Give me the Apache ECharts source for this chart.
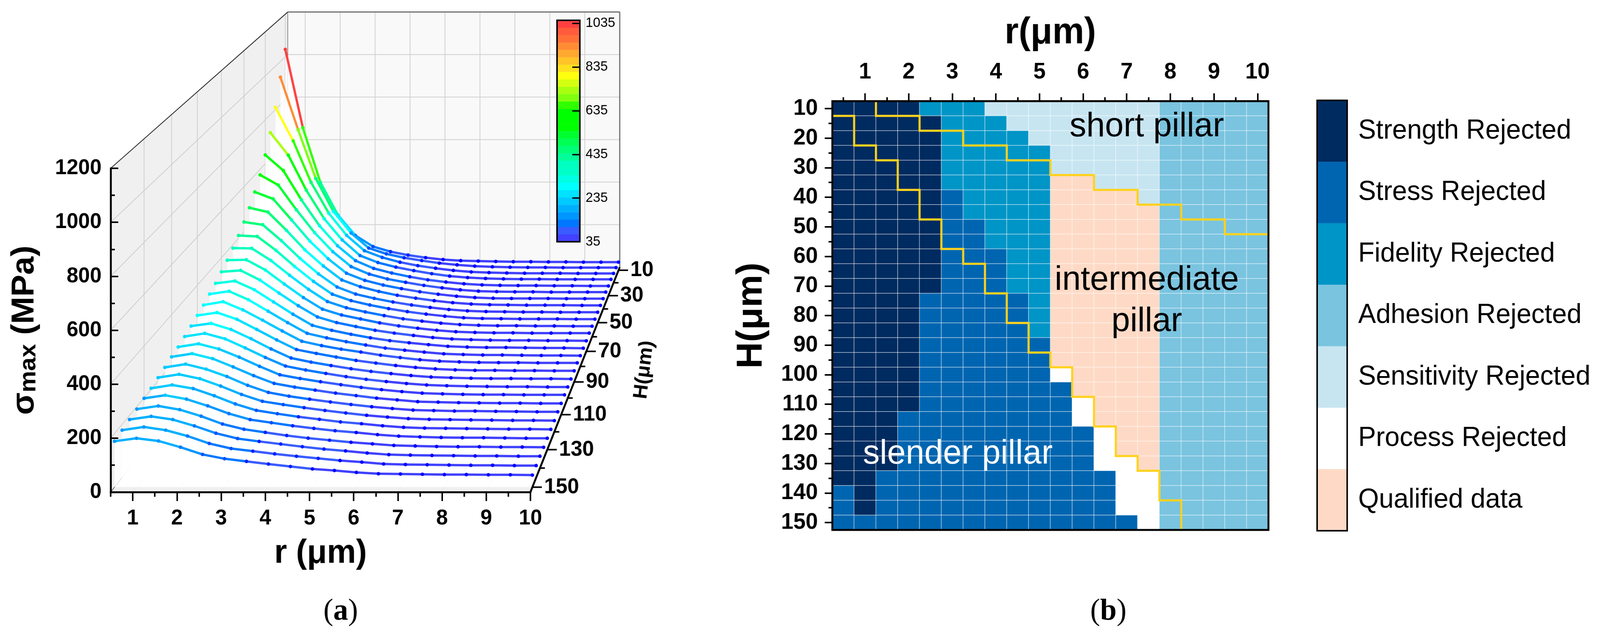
<!DOCTYPE html>
<html><head><meta charset="utf-8">
<style>html,body{margin:0;padding:0;background:#fff;overflow:hidden;width:100%;height:1626px}#c{width:4208px;height:1626px;transform-origin:0 0}</style>
<script src="https://cdn.jsdelivr.net/npm/echarts@6/dist/echarts.min.js"></script>
</head><body><div id="c"></div>
<script>
// ---------- panel (a) data: sigma_max (MPa) per H, at r = 0.5 ... 10
const rValues=[0.5,1,1.5,2,2.5,3,3.5,4,4.5,5,5.5,6,6.5,7,7.5,8,8.5,9,9.5,10];
const hValues=[10,15,20,25,30,35,40,45,50,55,60,65,70,75,80,85,90,95,100,105,110,115,120,125,130,135,140,145,150];
const sigmaH10=[1035,668,412,259,163,111,87,71,59,50,45,43,41,40,40,39,39,38,38,38];
const sigmaH15=[927,683,456,302,202,132,105,87,74,62,54,48,45,43,42,42,41,41,41,41];
const sigmaH20=[810,655,464,321,219,148,117,95,79,67,57,50,47,45,44,44,44,43,43,43];
const sigmaH25=[717,614,454,323,226,154,122,101,85,71,60,53,49,47,46,46,45,45,45,45];
const sigmaH30=[640,569,436,318,227,159,124,103,86,72,62,54,49,47,46,46,45,45,44,44];
const sigmaH35=[575,529,417,314,228,161,127,105,90,76,65,56,50,48,47,47,46,46,46,46];
const sigmaH40=[524,493,399,304,225,160,128,107,91,77,66,57,51,48,47,47,47,46,46,46];
const sigmaH45=[480,461,380,293,221,159,129,108,91,78,67,58,52,49,48,47,47,47,46,46];
const sigmaH50=[444,432,362,284,215,157,126,107,91,78,67,58,52,49,48,47,47,46,46,46];
const sigmaH55=[412,408,347,276,211,155,127,108,92,79,68,59,52,49,48,47,47,47,46,46];
const sigmaH60=[385,384,332,267,206,153,126,108,92,78,68,59,53,50,48,48,47,47,46,46];
const sigmaH65=[361,363,319,258,200,150,125,108,91,78,68,59,53,50,48,48,47,47,47,47];
const sigmaH70=[340,346,305,249,195,147,123,106,90,78,68,59,53,50,48,47,47,46,46,45];
const sigmaH75=[320,330,293,241,189,142,121,104,89,77,68,60,53,50,48,48,47,46,46,45];
const sigmaH80=[304,316,280,232,184,139,120,104,90,77,68,60,53,50,48,48,47,46,46,45];
const sigmaH85=[288,302,268,225,180,137,119,104,92,79,69,60,54,51,49,48,48,47,47,47];
const sigmaH90=[275,287,259,217,174,134,118,103,89,78,68,60,54,50,48,48,47,47,46,46];
const sigmaH95=[262,273,248,210,168,131,114,100,87,76,67,59,53,50,48,47,47,46,46,45];
const sigmaH100=[250,263,241,204,165,130,114,100,87,76,67,59,53,50,48,47,46,46,45,45];
const sigmaH105=[239,252,231,198,161,127,112,99,87,76,67,59,53,50,48,47,47,46,46,46];
const sigmaH110=[231,244,224,191,156,125,110,98,86,76,66,59,52,50,48,47,46,46,45,45];
const sigmaH115=[221,234,214,185,150,122,107,95,84,74,65,58,52,50,48,48,47,46,45,45];
const sigmaH120=[213,226,209,180,147,120,107,95,84,74,65,58,52,49,48,47,46,45,45,44];
const sigmaH125=[204,217,203,175,143,118,105,93,83,73,66,58,52,49,48,47,46,45,45,44];
const sigmaH130=[198,210,195,169,139,116,104,92,82,73,66,58,52,49,47,46,46,45,44,44];
const sigmaH135=[190,202,188,163,133,113,101,89,79,71,63,57,51,49,47,46,46,45,45,44];
const sigmaH140=[184,196,184,160,132,112,101,91,81,72,65,57,51,49,48,47,46,46,45,45];
const sigmaH145=[178,190,178,156,128,109,99,89,80,72,64,58,51,49,48,47,46,46,45,45];
const sigmaH150=[171,182,172,149,122,106,96,86,77,68,62,55,50,49,48,47,47,46,46,45];
const sigmaRows=[sigmaH10,sigmaH15,sigmaH20,sigmaH25,sigmaH30,sigmaH35,sigmaH40,sigmaH45,sigmaH50,sigmaH55,sigmaH60,sigmaH65,sigmaH70,sigmaH75,sigmaH80,sigmaH85,sigmaH90,sigmaH95,sigmaH100,sigmaH105,sigmaH110,sigmaH115,sigmaH120,sigmaH125,sigmaH130,sigmaH135,sigmaH140,sigmaH145,sigmaH150];
const colorTicks=[35,235,435,635,835,1035];
const bandColors=['#4141ff','#3a5cff','#0077ff','#0096ff','#00b0ff','#00caff','#00e2ff','#00ffff','#00ffe2','#00ffc8','#00ffc0','#00ff9a','#00ff78','#00ff55','#00ff30','#00ff00','#00ff00','#00ff00','#30ff00','#80ff10','#a8ff10','#d4ff10','#ffff10','#ffe020','#ffc428','#ffa830','#ff8c35','#ff7038','#ff5c3c','#ff4040'];
const dotLowColors=['#0000ff','#0020ff','#0050ff','#0078ff','#0098ff'];
const zTicksMajor=[10,30,50,70,90,110,130,150];
const zTicksMinor=[20,40,60,80,100,120,140];

// ---------- panel (b) data
const legendNames=['Strength Rejected','Stress Rejected','Fidelity Rejected','Adhesion Rejected','Sensitivity Rejected','Process Rejected','Qualified data'];
const legendColors=['#002b60','#0065b0','#0095c7','#7ac4e0','#c7e5f1','#ffffff','#fedac6'];
const heatRows=[
[0,0,0,0,2,2,2,4,4,4,4,4,4,4,4,3,3,3,3,3],
[0,0,0,0,0,2,2,2,4,4,4,4,4,4,4,3,3,3,3,3],
[0,0,0,0,0,2,2,2,2,4,4,4,4,4,4,3,3,3,3,3],
[0,0,0,0,0,2,2,2,2,2,4,4,4,4,4,3,3,3,3,3],
[0,0,0,0,0,2,2,2,2,2,4,4,4,4,4,3,3,3,3,3],
[0,0,0,0,0,2,2,2,2,2,6,6,4,4,4,3,3,3,3,3],
[0,0,0,0,0,1,2,2,2,2,6,6,6,6,4,3,3,3,3,3],
[0,0,0,0,0,1,2,2,2,2,6,6,6,6,6,3,3,3,3,3],
[0,0,0,0,0,1,1,2,2,2,6,6,6,6,6,3,3,3,3,3],
[0,0,0,0,0,1,1,2,2,2,6,6,6,6,6,3,3,3,3,3],
[0,0,0,0,0,1,1,1,2,2,6,6,6,6,6,3,3,3,3,3],
[0,0,0,0,0,1,1,1,2,2,6,6,6,6,6,3,3,3,3,3],
[0,0,0,0,0,1,1,1,2,2,6,6,6,6,6,3,3,3,3,3],
[0,0,0,0,1,1,1,1,1,2,6,6,6,6,6,3,3,3,3,3],
[0,0,0,0,1,1,1,1,1,2,6,6,6,6,6,3,3,3,3,3],
[0,0,0,0,1,1,1,1,1,2,6,6,6,6,6,3,3,3,3,3],
[0,0,0,0,1,1,1,1,1,1,6,6,6,6,6,3,3,3,3,3],
[0,0,0,0,1,1,1,1,1,1,6,6,6,6,6,3,3,3,3,3],
[0,0,0,0,1,1,1,1,1,1,5,6,6,6,6,3,3,3,3,3],
[0,0,0,0,1,1,1,1,1,1,1,6,6,6,6,3,3,3,3,3],
[0,0,0,0,1,1,1,1,1,1,1,5,6,6,6,3,3,3,3,3],
[0,0,0,1,1,1,1,1,1,1,1,5,6,6,6,3,3,3,3,3],
[0,0,0,1,1,1,1,1,1,1,1,1,5,6,6,3,3,3,3,3],
[0,0,0,1,1,1,1,1,1,1,1,1,5,6,6,3,3,3,3,3],
[0,0,0,1,1,1,1,1,1,1,1,1,5,5,6,3,3,3,3,3],
[0,0,1,1,1,1,1,1,1,1,1,1,1,5,5,3,3,3,3,3],
[1,0,1,1,1,1,1,1,1,1,1,1,1,5,5,3,3,3,3,3],
[1,0,1,1,1,1,1,1,1,1,1,1,1,5,5,3,3,3,3,3],
[1,1,1,1,1,1,1,1,1,1,1,1,1,1,5,3,3,3,3,3]
];
const lowerStepR=[0.25,0.75,0.75,1.25,1.25,1.75,1.75,2.25,2.25,2.75,2.75,3.25,3.25,3.75,3.75,4.25,4.25,4.75,4.75,5.25,5.25,5.75,5.75,6.25,6.25,6.75,6.75,7.25,7.25,7.75,7.75,8.25,8.25];
const lowerStepH=[12.5,12.5,22.5,22.5,27.5,27.5,37.5,37.5,47.5,47.5,57.5,57.5,62.5,62.5,72.5,72.5,82.5,82.5,92.5,92.5,97.5,97.5,107.5,107.5,117.5,117.5,127.5,127.5,132.5,132.5,142.5,142.5,152.5];
const upperStepR=[1.25,1.25,2.25,2.25,3.25,3.25,4.25,4.25,5.25,5.25,6.25,6.25,7.25,7.25,8.25,8.25,9.25,9.25,10.25];
const upperStepH=[7.5,12.5,12.5,17.5,17.5,22.5,22.5,27.5,27.5,32.5,32.5,37.5,37.5,42.5,42.5,47.5,47.5,52.5,52.5];
const rTickLabels=[1,2,3,4,5,6,7,8,9,10];
const hTickLabels=[10,20,30,40,50,60,70,80,90,100,110,120,130,140,150];

// the browser window may be narrower than the 4208 px layout: fit it horizontally
const host=document.getElementById('c');
if(window.innerWidth<4208) host.style.transform='scaleX('+(window.innerWidth/4208)+')';

// ---------- projection of the 3-D box onto the front plane's axes
function depthU(H){const d=(152.5-H)/145;return d*1.266/(1+0.266*d);}
function project(r,H,s){
  const u=depthU(H);
  const bx=4.507+0.791*(r-0.5), by=833.6+0.788*s;
  return [r+(bx-r)*u, s+(by-s)*u];
}
function bandIndex(v){return Math.max(0,Math.min(bandColors.length-1,Math.floor((v-35)/33.8)));}

const SANS='"Liberation Sans"', SERIF='"Liberation Serif"';
const BLACK='#000';
const plain=v=>String(v);

function wallsItem(params,api){
  const P=(r,H,s)=>api.coord(project(r,H,s));
  const kids=[];
  const poly=(pts,fill)=>kids.push({type:'polygon',shape:{points:pts},style:{fill:fill}});
  const seg=(a,b,col,w)=>kids.push({type:'line',shape:{x1:a[0],y1:a[1],x2:b[0],y2:b[1]},style:{stroke:col,lineWidth:w}});
  poly([P(0.5,7.5,0),P(10,7.5,0),P(10,7.5,1200),P(0.5,7.5,1200)],'#f9f9f9');
  poly([P(0.5,152.5,0),P(0.5,7.5,0),P(0.5,7.5,1200),P(0.5,152.5,1200)],'#f0f0f0');
  poly([P(0.5,152.5,0),P(10,152.5,0),P(10,7.5,0),P(0.5,7.5,0)],'#fbfbfb');
  poly([P(0.5,152.5,0),P(10,152.5,0),P(10,150,0),P(0.5,150,0)],'#f0f0f0');
  const grid='#cfcfcf';
  for(let s=200;s<=1000;s+=200){
    seg(P(0.5,152.5,s),P(0.5,7.5,s),grid,2);
    seg(P(0.5,7.5,s),P(10,7.5,s),grid,2);
  }
  rTickLabels.forEach(r=>{
    seg(P(r,7.5,0),P(r,7.5,1200),grid,2);
    seg(P(r,152.5,0),P(r,7.5,0),'#ececec',2);
  });
  zTicksMajor.forEach(H=>{
    if(H<150) seg(P(0.5,H,0),P(0.5,H,1200),grid,2);
    seg(P(0.5,H,0),P(10,H,0),'#ececec',2);
  });
  seg(P(0.5,7.5,1200),P(10,7.5,1200),'#555',2.5);
  seg(P(10,7.5,0),P(10,7.5,1200),'#555',2.5);
  seg(P(0.5,7.5,0),P(0.5,7.5,1200),'#888',2);
  seg(P(0.5,152.5,1200),P(0.5,7.5,1200),'#222',2);
  seg(P(0.5,152.5,0),P(0.5,7.5,0),'#444',1.5);
  return {type:'group',children:kids};
}
function curveItem(params,api){
  const row=sigmaRows[params.dataIndex], H=hValues[params.dataIndex];
  const pts=row.map((v,i)=>api.coord(project(rValues[i],H,v)));
  const kids=[];
  kids.push({type:'polygon',shape:{points:pts.concat([api.coord(project(10,H,0)),api.coord(project(0.5,H,0))])},style:{fill:'rgba(255,255,255,0.82)'}});
  for(let i=0;i<pts.length-1;i++){
    kids.push({type:'line',shape:{x1:pts[i][0],y1:pts[i][1],x2:pts[i+1][0],y2:pts[i+1][1]},style:{stroke:bandColors[bandIndex(row[i])],lineWidth:6,lineCap:'round'}});
  }
  row.forEach((v,i)=>{
    const b=bandIndex(v);
    kids.push({type:'circle',shape:{cx:pts[i][0],cy:pts[i][1],r:4.6},style:{fill:b<dotLowColors.length?dotLowColors[b]:bandColors[b]}});
  });
  return {type:'group',children:kids};
}
function zAxisItem(params,api){
  const P=(H)=>api.coord(project(10,H,0));
  const kids=[];
  const a=P(152.5),b=P(7.5);
  kids.push({type:'line',shape:{x1:a[0],y1:a[1],x2:b[0],y2:b[1]},style:{stroke:BLACK,lineWidth:5}});
  zTicksMinor.forEach(H=>{const p=P(H);kids.push({type:'line',shape:{x1:p[0],y1:p[1],x2:p[0]+13,y2:p[1]},style:{stroke:BLACK,lineWidth:4}});});
  zTicksMajor.forEach(H=>{
    const p=P(H);
    kids.push({type:'line',shape:{x1:p[0],y1:p[1],x2:p[0]+25,y2:p[1]},style:{stroke:BLACK,lineWidth:4}});
    kids.push({type:'text',x:p[0]+31,y:p[1],style:{text:String(H),fontFamily:SANS,fontWeight:'bold',fontSize:55,fill:BLACK,textAlign:'left',textVerticalAlign:'middle'}});
  });
  const t=api.coord(project(10,75,0));
  kids.push({type:'text',x:t[0]+160,y:t[1]+28,rotation:Math.PI/2-0.12,style:{text:'H(μm)',fontFamily:SANS,fontWeight:'bold',fontSize:52,fill:BLACK,textAlign:'center',textVerticalAlign:'middle'}});
  return {type:'group',children:kids};
}

const tickFont={fontFamily:SANS,fontWeight:'bold',fontSize:55,color:BLACK};
const hidden={show:false};
const R_A={left:291,top:431,width:1104,height:829};
const R_B={left:2189,top:259,width:1147,height:1098};

const option={
  animation:false,backgroundColor:'#fff',
  grid:[
    Object.assign({},R_A),                 // 0 panel a
    {left:1465,top:52,width:60,height:567,show:true,borderColor:BLACK,borderWidth:4,backgroundColor:'transparent',z:6}, // 1 colour bar
    Object.assign({},R_B,{show:true,borderColor:BLACK,borderWidth:5,backgroundColor:'transparent',z:6}), // 2 heatmap
    Object.assign({},R_B),                 // 3 heatmap overlay (value axes)
    {left:3464,top:257,width:79,height:1102,show:true,borderColor:BLACK,borderWidth:4,backgroundColor:'transparent',z:6}, // 4 legend bar
    Object.assign({},R_A)                  // 5 minor ticks of panel a
  ],
  xAxis:[
    {gridIndex:0,type:'value',min:0.5,max:10,position:'bottom',z:8,
      axisLine:{show:true,onZero:false,lineStyle:{color:BLACK,width:5}},
      axisTick:{show:true,customValues:rTickLabels,length:23,lineStyle:{color:BLACK,width:4}},
      axisLabel:Object.assign({show:true,customValues:rTickLabels,margin:40,formatter:plain},tickFont),
      splitLine:hidden,
      name:'r (μm)',nameLocation:'middle',nameGap:114,nameTextStyle:{fontFamily:SANS,fontWeight:'bold',fontSize:86,color:BLACK}},
    {gridIndex:1,type:'category',data:['c'],show:false},
    {gridIndex:2,type:'category',data:rValues.map(String),position:'top',z:8,
      axisLine:{show:false},axisLabel:hidden,splitLine:hidden,
      axisTick:{show:true,alignWithLabel:true,interval:0,length:10,lineStyle:{color:BLACK,width:4}}},
    {gridIndex:3,type:'value',min:0.25,max:10.25,position:'top',z:8,
      axisLine:hidden,splitLine:hidden,
      axisTick:{show:true,customValues:rTickLabels,length:20,lineStyle:{color:BLACK,width:4}},
      axisLabel:Object.assign({show:true,customValues:rTickLabels,margin:45,formatter:plain},tickFont,{fontSize:58}),
      name:'r(μm)',nameLocation:'middle',nameGap:127,nameTextStyle:{fontFamily:SANS,fontWeight:'bold',fontSize:94,color:BLACK}},
    {gridIndex:4,type:'category',data:['k'],show:false},
    {gridIndex:5,type:'value',min:0.5,max:10,position:'bottom',z:7,interval:0.5,
      axisLine:hidden,axisLabel:hidden,splitLine:hidden,
      axisTick:{show:true,length:12,lineStyle:{color:BLACK,width:4}}}
  ],
  yAxis:[
    {gridIndex:0,type:'value',min:0,max:1200,interval:200,position:'left',z:8,
      axisLine:{show:true,onZero:false,lineStyle:{color:BLACK,width:5}},
      axisTick:{show:true,inside:true,length:20,lineStyle:{color:BLACK,width:4}},
      axisLabel:Object.assign({show:true,margin:24,formatter:plain},tickFont),
      splitLine:hidden,
      name:'{a|σ}{b|max}{a| (MPa)}',nameLocation:'middle',nameGap:184,
      nameTextStyle:{rich:{a:{fontFamily:SANS,fontWeight:'bold',fontSize:84,color:BLACK},b:{fontFamily:SANS,fontWeight:'bold',fontSize:62,color:BLACK,verticalAlign:'bottom',padding:[22,0,0,0]}}}},
    {gridIndex:1,type:'category',data:bandColors.map((c,i)=>i),show:false},
    {gridIndex:1,type:'value',min:35,max:1049,position:'right',z:8,
      axisLine:hidden,splitLine:hidden,
      axisTick:{show:true,inside:true,customValues:colorTicks,length:20,lineStyle:{color:BLACK,width:3.5}},
      axisLabel:{show:true,customValues:colorTicks,margin:15,formatter:plain,fontFamily:SANS,fontSize:35,color:BLACK}},
    {gridIndex:2,type:'category',data:hValues.map(String),inverse:true,position:'left',z:8,
      axisLine:{show:false},axisLabel:hidden,splitLine:hidden,
      axisTick:{show:true,alignWithLabel:true,interval:0,length:10,lineStyle:{color:BLACK,width:4}}},
    {gridIndex:3,type:'value',min:7.5,max:152.5,inverse:true,position:'left',z:8,
      axisLine:hidden,splitLine:hidden,
      axisTick:{show:true,customValues:hTickLabels,length:20,lineStyle:{color:BLACK,width:4}},
      axisLabel:Object.assign({show:true,customValues:hTickLabels,margin:38,formatter:plain},tickFont,{fontSize:58}),
      name:'H(μm)',nameLocation:'middle',nameGap:165,nameTextStyle:{fontFamily:SANS,fontWeight:'bold',fontSize:94,color:BLACK}},
    {gridIndex:4,type:'category',data:legendNames,inverse:true,position:'right',
      axisLine:hidden,axisTick:hidden,splitLine:hidden,
      axisLabel:{show:true,interval:0,margin:29,fontFamily:SANS,fontSize:70,color:BLACK}},
    {gridIndex:5,type:'value',min:0,max:1200,interval:100,position:'left',z:7,
      axisLine:hidden,axisLabel:hidden,splitLine:hidden,
      axisTick:{show:true,inside:true,length:11,lineStyle:{color:BLACK,width:4}}}
  ],
  visualMap:[
    {type:'piecewise',show:false,seriesIndex:[3],dimension:2,pieces:bandColors.map((c,i)=>({value:i,color:c}))},
    {type:'piecewise',show:false,seriesIndex:[4,5],dimension:2,pieces:legendColors.map((c,i)=>({value:i,color:c}))}
  ],
  series:[
    {type:'custom',xAxisIndex:0,yAxisIndex:0,z:1,silent:true,renderItem:wallsItem,data:[[1,100]]},
    {type:'custom',xAxisIndex:0,yAxisIndex:0,z:2,silent:true,renderItem:curveItem,data:hValues.map((h,i)=>[1,100,i])},
    {type:'custom',xAxisIndex:0,yAxisIndex:0,z:9,silent:true,renderItem:zAxisItem,data:[[1,100]]},
    {type:'heatmap',xAxisIndex:1,yAxisIndex:1,z:3,silent:true,data:bandColors.map((c,i)=>[0,i,i])},
    {type:'heatmap',xAxisIndex:2,yAxisIndex:3,z:3,silent:true,
      itemStyle:{borderColor:'rgba(255,255,255,0.65)',borderWidth:1.5},
      data:heatRows.flatMap((row,j)=>row.map((v,i)=>[i,j,v]))},
    {type:'heatmap',xAxisIndex:4,yAxisIndex:5,z:3,silent:true,data:legendNames.map((n,i)=>[0,i,i])},
    {type:'line',xAxisIndex:3,yAxisIndex:4,z:5,silent:true,symbol:'none',clip:false,lineStyle:{color:'#ffd21e',width:5.5,join:'miter',cap:'square'},data:lowerStepR.map((r,i)=>[r,lowerStepH[i]])},
    {type:'line',xAxisIndex:3,yAxisIndex:4,z:5,silent:true,symbol:'none',clip:false,lineStyle:{color:'#ffd21e',width:5.5,join:'miter',cap:'square'},data:upperStepR.map((r,i)=>[r,upperStepH[i]])}
  ],
  graphic:[
    {type:'text',z:20,x:3016,y:325,style:{text:'short pillar',fontFamily:SANS,fontSize:88,fill:BLACK,textAlign:'center',textVerticalAlign:'middle'}},
    {type:'text',z:20,x:3016,y:718,style:{text:'intermediate',fontFamily:SANS,fontSize:88,fill:BLACK,textAlign:'center',textVerticalAlign:'middle'}},
    {type:'text',z:20,x:3016,y:824,style:{text:'pillar',fontFamily:SANS,fontSize:88,fill:BLACK,textAlign:'center',textVerticalAlign:'middle'}},
    {type:'text',z:20,x:2519,y:1163,style:{text:'slender pillar',fontFamily:SANS,fontSize:88,fill:'#fff',textAlign:'center',textVerticalAlign:'middle'}},
    {type:'text',z:20,x:896,y:1567,style:{rich:{p:{fontFamily:SERIF,fontSize:78,fill:BLACK},l:{fontFamily:SERIF,fontWeight:'bold',fontSize:78,fill:BLACK}},text:'{p|(}{l|a}{p|)}',textAlign:'center',textVerticalAlign:'middle'}},
    {type:'text',z:20,x:2915,y:1567,style:{rich:{p:{fontFamily:SERIF,fontSize:78,fill:BLACK},l:{fontFamily:SERIF,fontWeight:'bold',fontSize:78,fill:BLACK}},text:'{p|(}{l|b}{p|)}',textAlign:'center',textVerticalAlign:'middle'}}
  ]
};
const chart=echarts.init(host,null,{width:4208,height:1626,devicePixelRatio:1});
chart.setOption(option);
</script></body></html>
